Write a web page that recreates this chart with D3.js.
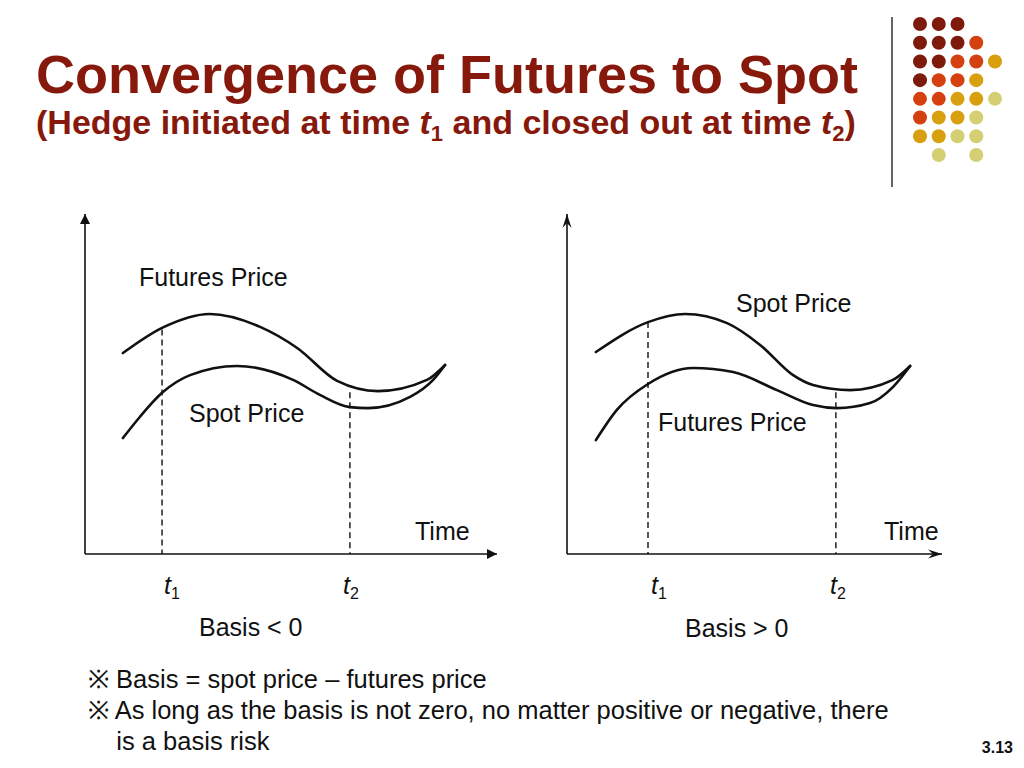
<!DOCTYPE html>
<html lang="en">
  <head>
    <title>Convergence of Futures to Spot</title>
    <script src="https://d3js.org/d3.v7.min.js"></script>
    <style>
      body {
        margin: 0;
        background: #fff;
      }
      text {
        font-family: "Liberation Sans", Arial, sans-serif;
      }
      .title,
      .subtitle {
        fill: #86190b;
        font-weight: bold;
      }
      .label {
        font-size: 25px;
        fill: #111;
      }
      .note {
        font-size: 25.5px;
        fill: #111;
      }
    </style>
  </head>
  <body>
    <svg id="chart" width="1024" height="768"></svg>
    <script>
      // left panel: basis < 0 (futures above spot)
      const leftFuturesTime = [9.2, 18.7, 30.3, 42.5, 51.5, 61.2, 71.1, 83.0, 87.4];
      const leftFuturesPrice = [59.1, 66.5, 70.6, 66.8, 60.6, 50.9, 47.9, 51.2, 55.6];
      const leftSpotTime = [9.2, 13.3, 18.7, 25.5, 36.9, 50.5, 57.0, 64.3, 68.7, 78.9, 84.5, 87.4];
      const leftSpotPrice = [34.1, 40.3, 47.4, 52.6, 55.3, 51.2, 46.8, 43.2, 42.9, 46.2, 51.2, 55.6];
      const leftHedgeTime = [18.7, 64.3];
      const leftHedgeTop = [66.0, 47.6];

      // right panel: basis > 0 (spot above futures)
      const rightSpotTime = [7.7, 21.6, 31.5, 42.7, 51.5, 60.3, 65.6, 75.5, 86.9, 91.5];
      const rightSpotPrice = [59.4, 68.2, 70.6, 67.9, 61.5, 52.6, 49.7, 48.2, 51.2, 55.3];
      const rightFuturesTime = [7.7, 13.3, 21.6, 33.6, 44.3, 56.0, 65.6, 72.0, 80.8, 86.9, 91.5];
      const rightFuturesPrice = [33.5, 42.4, 50.0, 54.7, 53.5, 48.2, 43.8, 42.9, 44.4, 49.1, 55.3];
      const rightHedgeTime = [21.6, 71.7];
      const rightHedgeTop = [68.2, 47.6];

      const hedgeLabels = ["1", "2"];
      const basisLabels = ["Basis < 0", "Basis > 0"];

      // decoration dots, one string per row (d = dark, r = red, g = gold, l = light, . = none)
      const dotRows = ["ddd..", "dddr.", "ddrrg", "drrg.", "rrggl", "rggl.", "ggll.", ".l.l."];
      const dotColors = { d: "#7d1a0c", r: "#d4400f", g: "#d89f0e", l: "#d3cf72" };

      const notes = [
        "\u203B Basis = spot price \u2013 futures price",
        "\u203B As long as the basis is not zero, no matter positive or negative, there",
        "    is a basis risk",
      ];

      const svg = d3.select("svg#chart");

      const defs = svg.append("defs");
      defs
        .append("marker")
        .attr("id", "arrow-fill")
        .attr("viewBox", "0 0 10 10")
        .attr("refX", 10)
        .attr("refY", 5)
        .attr("markerWidth", 10)
        .attr("markerHeight", 10)
        .attr("markerUnits", "userSpaceOnUse")
        .attr("orient", "auto")
        .append("path")
        .attr("d", "M0,0 L10,5 L0,10 z")
        .attr("fill", "#111");
      defs
        .append("marker")
        .attr("id", "arrow-open")
        .attr("viewBox", "0 0 14 10")
        .attr("refX", 14)
        .attr("refY", 5)
        .attr("markerWidth", 14)
        .attr("markerHeight", 10)
        .attr("markerUnits", "userSpaceOnUse")
        .attr("orient", "auto")
        .append("path")
        .attr("d", "M0,0.5 L14,5 L0,9.5 L5,5 z")
        .attr("fill", "#111");

      // title
      svg
        .append("text")
        .attr("class", "title")
        .attr("x", 36)
        .attr("y", 93)
        .style("font-size", "54px")
        .text("Convergence of Futures to Spot");

      const sub = svg
        .append("text")
        .attr("class", "subtitle")
        .attr("x", 36)
        .attr("y", 134)
        .style("font-size", "34px");
      sub.append("tspan").text("(Hedge initiated at time ");
      sub.append("tspan").style("font-style", "italic").text("t");
      sub.append("tspan").attr("dy", 7).style("font-size", "22px").text("1");
      sub.append("tspan").attr("dy", -7).text(" and closed out at time ");
      sub.append("tspan").style("font-style", "italic").text("t");
      sub.append("tspan").attr("dy", 7).style("font-size", "22px").text("2");
      sub.append("tspan").attr("dy", -7).text(")");

      // separator and dots
      svg
        .append("line")
        .attr("x1", 892)
        .attr("x2", 892)
        .attr("y1", 17)
        .attr("y2", 187)
        .attr("stroke", "#333")
        .attr("stroke-width", 1.5);

      const dotX = d3.scalePoint().domain(d3.range(5)).range([920, 995]);
      const dotY = d3.scalePoint().domain(d3.range(dotRows.length)).range([24, 155]);
      const dots = [];
      dotRows.forEach((row, r) => {
        row.split("").forEach((c, i) => {
          if (c !== ".") dots.push({ row: r, col: i, color: dotColors[c] });
        });
      });
      svg
        .append("g")
        .selectAll("circle")
        .data(dots)
        .join("circle")
        .attr("cx", (d) => dotX(d.col))
        .attr("cy", (d) => dotY(d.row))
        .attr("r", 7)
        .attr("fill", (d) => d.color);

      const panels = [
        {
          origin: [85, 554],
          xEnd: 497,
          yEnd: 214,
          marker: "arrow-fill",
          upper: { time: leftFuturesTime, price: leftFuturesPrice },
          lower: { time: leftSpotTime, price: leftSpotPrice },
          hedgeTime: leftHedgeTime,
          hedgeTop: leftHedgeTop,
          labels: [
            { text: "Futures Price", x: 139, y: 286 },
            { text: "Spot Price", x: 189, y: 422 },
            { text: "Time", x: 415, y: 540 },
          ],
          tickX: [164, 343],
          basis: { text: basisLabels[0], x: 199, y: 636 },
        },
        {
          origin: [567, 554],
          xEnd: 942,
          yEnd: 214,
          marker: "arrow-open",
          upper: { time: rightSpotTime, price: rightSpotPrice },
          lower: { time: rightFuturesTime, price: rightFuturesPrice },
          hedgeTime: rightHedgeTime,
          hedgeTop: rightHedgeTop,
          labels: [
            { text: "Spot Price", x: 736, y: 312 },
            { text: "Futures Price", x: 658, y: 431 },
            { text: "Time", x: 884, y: 540 },
          ],
          tickX: [651, 830],
          basis: { text: basisLabels[1], x: 685, y: 637 },
        },
      ];

      panels.forEach((p) => {
        const g = svg.append("g");
        const xScale = d3.scaleLinear().domain([0, 100]).range([p.origin[0], p.xEnd]);
        const yScale = d3.scaleLinear().domain([0, 100]).range([p.origin[1], p.yEnd]);

        // axes
        g.append("line")
          .attr("x1", xScale(0))
          .attr("y1", yScale(0))
          .attr("x2", xScale(0))
          .attr("y2", yScale(100))
          .attr("stroke", "#111")
          .attr("stroke-width", 1.6)
          .attr("marker-end", `url(#${p.marker})`);
        g.append("line")
          .attr("x1", xScale(0))
          .attr("y1", yScale(0))
          .attr("x2", xScale(100))
          .attr("y2", yScale(0))
          .attr("stroke", "#111")
          .attr("stroke-width", 1.6)
          .attr("marker-end", `url(#${p.marker})`);

        // hedge times
        p.hedgeTime.forEach((t, i) => {
          g.append("line")
            .attr("x1", xScale(t))
            .attr("x2", xScale(t))
            .attr("y1", yScale(p.hedgeTop[i]))
            .attr("y2", yScale(0))
            .attr("stroke", "#111")
            .attr("stroke-width", 1.4)
            .attr("stroke-dasharray", "6,4");
        });

        const line = d3
          .line()
          .x((d) => xScale(d[0]))
          .y((d) => yScale(d[1]))
          .curve(d3.curveMonotoneX);

        [p.upper, p.lower].forEach((s) => {
          g.append("path")
            .attr("d", line(d3.zip(s.time, s.price)))
            .attr("fill", "none")
            .attr("stroke", "#111")
            .attr("stroke-width", 2.6)
            .attr("stroke-linecap", "round");
        });

        p.labels.forEach((l) => {
          g.append("text").attr("class", "label").attr("x", l.x).attr("y", l.y).text(l.text);
        });

        p.tickX.forEach((x, i) => {
          const t = g.append("text").attr("class", "label").attr("x", x).attr("y", 594);
          t.append("tspan").style("font-style", "italic").text("t");
          t.append("tspan").attr("dy", 5).style("font-size", "16px").text(hedgeLabels[i]);
        });

        g.append("text")
          .attr("class", "label")
          .attr("x", p.basis.x)
          .attr("y", p.basis.y)
          .text(p.basis.text);
      });

      // notes
      svg
        .append("g")
        .selectAll("text")
        .data(notes)
        .join("text")
        .attr("class", "note")
        .attr("x", 88)
        .attr("y", (d, i) => 688 + i * 31)
        .attr("xml:space", "preserve")
        .style("white-space", "pre")
        .text((d) => d);

      svg
        .append("text")
        .attr("x", 1013)
        .attr("y", 753)
        .attr("text-anchor", "end")
        .style("font-size", "16px")
        .style("font-weight", "bold")
        .attr("fill", "#111")
        .text("3.13");
    </script>
  </body>
</html>
